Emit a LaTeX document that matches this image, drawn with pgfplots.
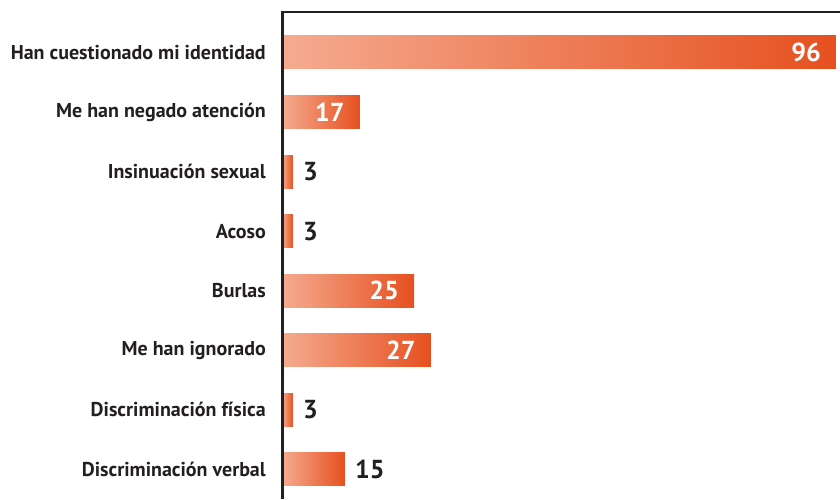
\documentclass[border=0pt]{standalone}
\usepackage{pgfplots}
\pgfplotsset{compat=1.18}
\usepackage{fontspec}
\setmainfont{PT Sans}
\definecolor{barL}{HTML}{F5AB90}
\definecolor{barR}{HTML}{E6501F}
\definecolor{txt}{HTML}{231F20}
\tikzset{gbar/.style={draw=none, left color=barL, right color=barR}}
\begin{document}
\begin{tikzpicture}
\path[use as bounding box] (0,0) rectangle (840pt,499pt);
\begin{axis}[
  at={(282pt,0pt)}, anchor=south west,
  scale only axis, width=558pt, height=487pt,
  xmin=0, xmax=96.7,
  ymin=-0.68, ymax=7.5, y dir=reverse,
  xbar, bar width=33pt, bar shift=0pt,
  ytick={0,...,7},
  yticklabels={Han cuestionado mi identidad, Me han negado atención, Insinuación sexual, Acoso, Burlas, Me han ignorado, Discriminación física, Discriminación verbal},
  yticklabel style={font=\fontsize{20}{22}\selectfont\bfseries, text=txt, inner sep=0pt, anchor=east},
  yticklabel shift=16pt,
  major tick length=0pt,
  xtick=\empty,
  axis line style={draw=none},
  point meta=explicit,
  /pgf/number format/assume math mode=true,
  clip=false,
]
\addplot[gbar] coordinates {(96.0,0) [96]};
\addplot[gbar] coordinates {(13.5,1) [17]};
\addplot[gbar] coordinates {(1.9,2) [3]};
\addplot[gbar] coordinates {(1.9,3) [3]};
\addplot[gbar] coordinates {(22.9,4) [25]};
\addplot[gbar] coordinates {(25.8,5) [27]};
\addplot[gbar] coordinates {(1.9,6) [3]};
\addplot[gbar] coordinates {(10.9,7) [15]};
\addplot[draw=none, fill=none, nodes near coords,
  nodes near coords style={anchor=east, xshift=-15pt, inner sep=0pt, text=white, font=\fontsize{26}{28}\selectfont\bfseries}]
  coordinates {(96.0,0) [96] (13.5,1) [17] (22.9,4) [25] (25.8,5) [27]};
\addplot[draw=none, fill=none, nodes near coords,
  nodes near coords style={anchor=west, xshift=10pt, inner sep=0pt, text=txt, font=\fontsize{26}{28}\selectfont\bfseries}]
  coordinates {(1.9,2) [3] (1.9,3) [3] (1.9,6) [3] (10.9,7) [15]};
\draw[txt, line width=3pt] (axis description cs:0,0) -- ([yshift=1pt]axis description cs:0,1);
\draw[txt, line width=2pt] ([xshift=-1.5pt]axis description cs:0,1) -- (axis description cs:1,1);
\end{axis}
\end{tikzpicture}
\end{document}
